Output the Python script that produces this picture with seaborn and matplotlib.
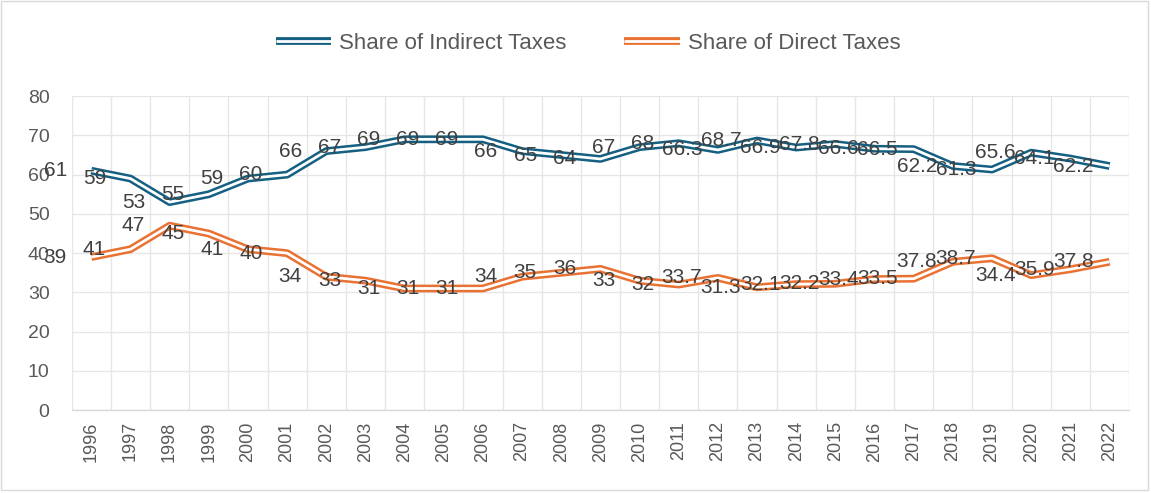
import matplotlib
matplotlib.use("Agg")
import matplotlib.pyplot as plt
from matplotlib.lines import Line2D
from matplotlib.patches import Rectangle
import seaborn as sns
import pandas as pd
import numpy as np

years = list(range(1996, 2023))
indirect = [61, 59, 53, 55, 59, 60, 66, 67, 69, 69, 69, 66, 65, 64, 67, 68,
            66.3, 68.7, 66.9, 67.8, 66.6, 66.5, 62.2, 61.3, 65.6, 64.1, 62.2]
direct = [39, 41, 47, 45, 41, 40, 34, 33, 31, 31, 31, 34, 35, 36, 33, 32,
          33.7, 31.3, 32.1, 32.2, 33.4, 33.5, 37.8, 38.7, 34.4, 35.9, 37.8]
series_names = ["Share of Indirect Taxes", "Share of Direct Taxes"]
colors = ["#156082", "#E97132"]

df = pd.DataFrame({
    "year": years * 2,
    "value": indirect + direct,
    "series": [series_names[0]] * len(years) + [series_names[1]] * len(years),
})

sns.set_theme(style="white")
plt.rcParams["font.family"] = ["Liberation Sans", "DejaVu Sans"]

fig = plt.figure(figsize=(11.51, 4.93), dpi=100)
ax = fig.add_axes([0.0623, 0.168, 0.9187, 0.637])

OUTER, INNER = 5.6, 2.0
sns.lineplot(data=df, x="year", y="value", hue="series",
             palette=dict(zip(series_names, colors)), linewidth=OUTER,
             legend=False, ax=ax, zorder=3, solid_capstyle="butt")
sns.lineplot(data=df, x="year", y="value", hue="series",
             palette={n: "white" for n in series_names}, linewidth=INNER,
             legend=False, ax=ax, zorder=4, solid_capstyle="butt")

# data labels (as in the reference, each value sits one category to the left)
for vals in (indirect, direct):
    for yr, v in zip(years, vals):
        ax.text(yr - 1 + 0.08, v, f"{v:g}", ha="center", va="center",
                fontsize=15, color="#404040", zorder=6)

ax.set_xlim(1995.5, 2022.5)
ax.set_ylim(0, 80)
ax.set_yticks(range(0, 81, 10))
ax.set_xticks(years)
ax.set_xticklabels([str(y) for y in years], rotation=90)
ax.set_xticks(np.arange(1995.5, 2023, 1), minor=True)
ax.grid(True, axis="y", which="major", color="#E6E6E6", linewidth=1)
ax.grid(True, axis="x", which="minor", color="#E6E6E6", linewidth=1)
ax.set_axisbelow(True)
ax.tick_params(axis="y", length=0, pad=16, labelsize=14, labelcolor="#595959")
ax.tick_params(axis="x", which="both", length=0, pad=8, labelsize=13, labelcolor="#595959")
for s in ["top", "right", "left"]:
    ax.spines[s].set_visible(False)
ax.spines["bottom"].set_color("#D9D9D9")
ax.spines["bottom"].set_linewidth(1)
ax.set_xlabel("")
ax.set_ylabel("")

handles = [(Line2D([], [], color=c, linewidth=OUTER, solid_capstyle="butt"),
            Line2D([], [], color="white", linewidth=INNER, solid_capstyle="butt"))
           for c in colors]
fig.legend(handles, series_names, loc="center", bbox_to_anchor=(0.511, 0.912), ncol=2,
           frameon=False, fontsize=16, labelcolor="#595959", handlelength=2.5,
           columnspacing=2.6, handletextpad=0.35)

fig.patches.append(Rectangle((0.001, 0.006), 0.996, 0.992, transform=fig.transFigure,
                             fill=False, edgecolor="#D9D9D9", linewidth=1))

fig.savefig("out.png", dpi=100)
